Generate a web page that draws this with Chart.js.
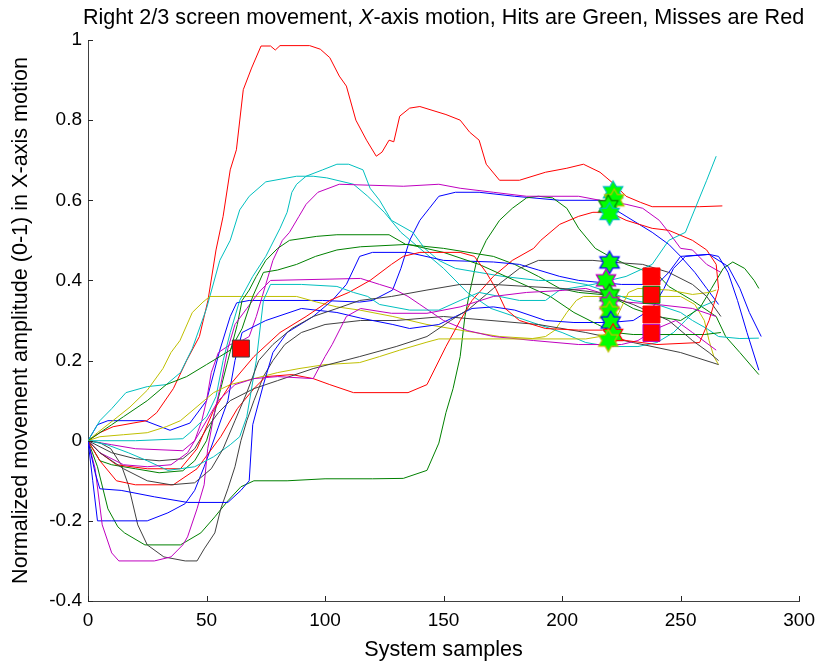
<!DOCTYPE html>
<html><head><meta charset="utf-8">
<script src="https://cdn.jsdelivr.net/npm/chart.js@4/dist/chart.umd.min.js"></script>
<style>html,body{margin:0;padding:0;background:#fff;}#wrap{width:823px;height:670px;}</style>
</head><body><div id="wrap"><canvas id="c" width="823" height="670"></canvas></div>
<script>
// ---------- data (x = system sample, y = normalized amplitude) ----------
const xTicks = [0, 50, 100, 150, 200, 250, 300];
const yTicks = [-0.4, -0.2, 0, 0.2, 0.4, 0.6, 0.8, 1];

const blue1 = [[0,0],[4,0.04],[8.4,0.05],[24,0.05],[34.6,0.026],[43,0.044],[50,0.1],[55.6,0.226],[60,0.31],[62.7,0.344],[68,0.35],[99,0.35],[114.6,0.346],[120,0.35],[128.5,0.376],[132,0.43],[135.7,0.5],[140,0.55],[144,0.58],[148,0.61],[155,0.62],[165,0.62],[180,0.61],[199,0.6],[216,0.6],[227,0.56],[238,0.52],[245,0.49],[250,0.46],[256,0.42],[261,0.38],[266,0.34]];
const green1 = [[0,0],[4,-0.065],[8.4,-0.17],[12.6,-0.215],[15.4,-0.23],[24,-0.26],[39,-0.26],[47.6,-0.23],[53.5,-0.19],[59,-0.15],[64.5,-0.115],[70,-0.1],[84,-0.1],[100,-0.095],[120,-0.095],[133,-0.094],[143,-0.074],[148,-0.006],[151,0.07],[154,0.13],[157,0.21],[159,0.31],[161,0.37],[164,0.45],[168,0.5],[173.6,0.55],[179,0.58],[185,0.606],[190,0.61],[196,0.606],[202,0.58],[207,0.53],[214,0.48],[220,0.46],[227,0.44],[234,0.426],[241,0.41],[245,0.385],[255,0.35],[265,0.31],[269,0.26],[275,0.22],[283,0.165]];
const red1 = [[0,0],[5,0.02],[10.6,0.035],[19,0.044],[24.8,0.05],[29,0.07],[36,0.13],[41.6,0.2],[47,0.26],[50.6,0.35],[54,0.476],[57,0.56],[60,0.676],[62.6,0.726],[65.5,0.876],[69,0.93],[73,0.985],[77,0.985],[79,0.975],[81,0.986],[93.5,0.986],[98,0.977],[102,0.956],[106,0.91],[109,0.885],[113,0.8],[117.5,0.75],[121.6,0.71],[124,0.72],[127,0.75],[129,0.746],[131.5,0.81],[135.7,0.83],[140,0.834],[151,0.814],[157,0.8],[161,0.77],[165,0.75],[168,0.69],[173.6,0.65],[182,0.65],[193,0.67],[202,0.68],[209,0.69],[216,0.67],[222,0.64],[227,0.61],[233,0.595],[238,0.584],[258,0.584],[267.6,0.586]];
const cyan1 = [[0,0],[5,0.05],[10,0.08],[16,0.12],[25,0.135],[33,0.14],[39,0.17],[44,0.23],[50,0.33],[55.6,0.45],[60,0.5],[64,0.576],[68,0.61],[75,0.646],[88,0.66],[95,0.66],[100.7,0.656],[112,0.64],[118,0.61],[125,0.57],[132,0.52],[140,0.48],[150,0.43],[160,0.37],[170,0.33],[180,0.31],[190,0.29],[200,0.27],[210,0.245],[220,0.235],[232,0.235],[240,0.245],[247,0.27],[252,0.3],[257,0.33],[265,0.35]];
const magenta1 = [[0,0],[10,-0.01],[20,-0.02],[40,-0.025],[45,0],[48,0.05],[50,0.1],[52,0.17],[55,0.22],[60,0.24],[65,0.25],[68,0.26],[71,0.31],[75,0.39],[78,0.45],[82,0.5],[85,0.52],[89,0.56],[92,0.59],[97,0.62],[106,0.64],[133,0.635],[148,0.64],[157,0.63],[171,0.62],[185,0.61],[207,0.61],[216,0.6],[227,0.59],[234,0.58],[241,0.55],[245,0.52],[250,0.48],[255,0.476],[261,0.44],[267,0.42]];
const yellow1 = [[0,0],[4,0.02],[10.5,0.05],[17.7,0.084],[25,0.126],[31.6,0.18],[35,0.22],[38.8,0.25],[44,0.32],[48.5,0.346],[51.4,0.36],[88,0.36],[96.5,0.346],[105,0.334],[114.6,0.326],[128.6,0.31],[143,0.29],[157,0.276],[173.6,0.26],[187.5,0.255],[193,0.26],[197,0.276],[202,0.32],[206,0.35],[209,0.36],[250,0.36],[256,0.34],[260,0.3],[262,0.25],[264,0.21],[266,0.19]];
const grey1 = [[0,0],[5,-0.005],[9.6,-0.02],[14,-0.06],[17,-0.11],[21,-0.21],[25,-0.26],[32,-0.29],[41,-0.3],[46,-0.3],[49,-0.27],[53.5,-0.23],[56,-0.17],[59,-0.12],[62,-0.065],[64.5,0],[67,0.05],[70,0.1],[74,0.16],[78,0.2],[83,0.24],[90,0.27],[100,0.29],[115,0.3],[130,0.3],[150,0.31],[170,0.3],[190,0.29],[210,0.27],[230,0.245],[250,0.22],[266,0.19]];
const blue2 = [[0,0],[2,-0.1],[4,-0.2],[9.8,-0.2],[25,-0.2],[33.7,-0.18],[41,-0.157],[45,-0.124],[49,-0.065],[52,-0.016],[55,0.034],[59,0.1],[62,0.2],[65,0.27],[75,0.3],[90,0.33],[105,0.32],[115,0.306],[128.6,0.29],[135.7,0.28],[148,0.29],[155,0.31],[162,0.33],[171,0.334],[180,0.326],[193,0.3],[205,0.295],[220,0.295],[230,0.3],[238,0.33],[243,0.38],[247,0.43],[252,0.46],[262,0.465],[270,0.435],[275,0.38],[279,0.32],[284,0.26]];
const green2 = [[0,0],[5,-0.05],[10,-0.06],[20,-0.07],[30,-0.08],[40,-0.075],[45,-0.05],[50,0],[53,0.06],[56,0.13],[59,0.2],[63,0.29],[65,0.35],[68,0.376],[71,0.41],[75,0.45],[80,0.48],[85,0.5],[96.5,0.51],[105,0.514],[127,0.514],[134,0.49],[150,0.48],[171,0.46],[180,0.44],[190,0.41],[199,0.38],[207,0.37],[220,0.363],[230,0.33],[240,0.31],[250,0.3],[258,0.33],[263,0.38],[268,0.43],[272,0.446],[277,0.43],[281,0.4],[283,0.38]];
const red2 = [[0,0],[5,-0.05],[12,-0.1],[20,-0.11],[36,-0.11],[46,-0.07],[56,0.01],[63,0.08],[70,0.13],[75,0.16],[86,0.165],[95,0.155],[102,0.14],[112,0.12],[135,0.12],[143,0.14],[151,0.235],[157,0.3],[162,0.35],[171,0.41],[179,0.45],[188,0.48],[191,0.5],[199,0.54],[207,0.56],[213,0.57],[220,0.57],[227,0.55],[238,0.53],[245,0.525],[255,0.5],[261,0.476],[265,0.44],[266,0.38]];
const cyan2 = [[0,0],[20,0],[40,0.005],[43,0.02],[50,0.06],[54,0.11],[57,0.2],[60,0.27],[64,0.35],[69.5,0.41],[75,0.46],[81,0.53],[84,0.57],[86,0.62],[88,0.64],[92,0.66],[99,0.676],[105,0.69],[110,0.69],[116,0.676],[119,0.63],[123,0.6],[128,0.55],[137,0.52],[142,0.48],[148,0.45],[155,0.43],[165,0.42],[175,0.41],[190,0.4],[200,0.4],[210,0.39],[220,0.37],[230,0.35],[240,0.34],[250,0.32],[255,0.3],[261,0.28],[266,0.26],[275,0.255],[283,0.256]];
const magenta2 = [[0,0],[3,-0.07],[6,-0.21],[10,-0.28],[13,-0.3],[28,-0.3],[35,-0.29],[40,-0.26],[42,-0.24],[46,-0.17],[49,-0.11],[50.5,-0.02],[53,0.06],[56,0.14],[59,0.23],[62,0.29],[67,0.33],[72,0.37],[77,0.4],[115,0.405],[123,0.39],[128.5,0.38],[135,0.36],[140,0.34],[150,0.3],[160,0.275],[171,0.26],[188,0.25],[207,0.24],[225,0.24],[232,0.25],[240,0.28],[248,0.3],[255,0.27],[265,0.226]];
const yellow2 = [[0,0],[5,0.01],[15,0.015],[25,0.02],[33,0.035],[39,0.05],[46,0.085],[53,0.12],[60,0.14],[70,0.155],[80,0.17],[89,0.18],[100,0.19],[114.6,0.195],[123,0.21],[131.5,0.226],[143,0.246],[148,0.254],[210,0.254],[216,0.26],[220,0.27],[224,0.32],[228,0.37],[232,0.38],[245,0.376],[255,0.365],[262,0.37],[265,0.376]];
const grey2 = [[0,0],[10,-0.03],[20,-0.045],[30,-0.05],[40,-0.045],[45,-0.02],[50,0.03],[55,0.07],[60,0.1],[70,0.13],[80,0.15],[95,0.18],[114.6,0.21],[130,0.235],[143,0.26],[153,0.3],[161,0.33],[171,0.38],[182,0.43],[190,0.45],[213,0.45],[222,0.445],[234,0.44],[245,0.42],[255,0.39],[261,0.36],[267,0.31]];
const blue3 = [[0,0],[3,-0.08],[5,-0.12],[14,-0.124],[28,-0.14],[42,-0.154],[59,-0.154],[64.5,-0.124],[68,-0.1],[69.5,0.04],[74,0.14],[78,0.22],[84,0.27],[95,0.31],[103,0.35],[109,0.39],[114.6,0.46],[120,0.47],[135,0.47],[150,0.45],[171,0.446],[182,0.44],[190,0.426],[199,0.41],[207,0.4],[225,0.39],[240,0.39],[245,0.42],[250,0.46],[262,0.465],[266,0.46],[270,0.42],[274,0.35],[278,0.27],[283,0.176]];
const green3 = [[0,0],[5,0.02],[10,0.04],[15,0.06],[25,0.1],[33,0.14],[41.6,0.16],[50,0.19],[55.6,0.21],[60,0.226],[65,0.28],[69.5,0.36],[74,0.42],[80,0.426],[88,0.44],[96,0.46],[105,0.476],[115,0.484],[135,0.49],[150,0.47],[165,0.44],[180,0.4],[195,0.36],[205,0.32],[215,0.29],[222,0.27],[230,0.265],[260,0.265],[267,0.27]];
const red3 = [[0,0],[5,-0.03],[12,-0.06],[25,-0.07],[39,-0.07],[46,-0.02],[53,0.076],[60,0.14],[70,0.21],[81,0.27],[92,0.31],[102,0.35],[110,0.37],[119,0.4],[128,0.44],[133,0.46],[140,0.47],[157,0.47],[163,0.46],[168,0.42],[172,0.38],[176,0.33],[182,0.3],[193,0.28],[207,0.276],[217,0.276],[221,0.26],[227,0.25],[240,0.24],[258,0.245],[262,0.3],[264,0.34],[266,0.38]];
const cyan3 = [[0,0],[8,-0.01],[17,-0.03],[25,-0.05],[33.7,-0.074],[45,-0.065],[53,-0.04],[60,-0.01],[64,0.01],[67,0.06],[71,0.2],[74,0.35],[77,0.39],[90,0.39],[105,0.385],[112,0.37],[118,0.36],[123,0.34],[135.7,0.326],[148,0.326],[157,0.35],[165,0.37],[173.6,0.36],[182,0.35],[193,0.35],[199,0.376],[213,0.39],[227,0.41],[238,0.44],[245,0.5],[252,0.52],[256.5,0.585],[261,0.65],[265,0.71]];
const magenta3 = [[0,0],[5,-0.03],[15,-0.06],[25,-0.065],[35,-0.06],[42,-0.03],[48,0.03],[55,0.1],[62,0.14],[70,0.155],[80,0.16],[95,0.155],[100,0.21],[103,0.24],[109,0.31],[115,0.33],[128,0.318],[143,0.318],[157,0.334],[171,0.36],[185,0.37],[200,0.375],[210,0.38],[220,0.363],[227,0.346],[240,0.34],[255,0.33],[265,0.31]];
const grey3 = [[0,0],[5,-0.03],[15,-0.07],[25,-0.1],[35,-0.11],[45,-0.105],[52,-0.07],[57,-0.02],[62,0.05],[67,0.12],[72,0.2],[78,0.24],[86,0.28],[95,0.31],[105,0.33],[114.6,0.35],[128,0.36],[143,0.376],[157,0.39],[171,0.39],[185,0.385],[200,0.38],[215,0.37],[230,0.34],[245,0.3],[255,0.25],[262,0.22],[266,0.2]];

// hit markers (hexagrams) and miss markers (squares)
const hitX = [221.5, 222, 219.5, 220, 220, 218.5, 220, 220, 220, 220.5, 221.5, 219.5];
const hitY = [0.62, 0.60, 0.585, 0.566, 0.445, 0.40, 0.363, 0.343, 0.32, 0.295, 0.264, 0.25];
const hitTrial = ['c','y','g','c','b','m','g','m','y','b','r','y'];
const missX = [64.5, 237.7, 237.7, 237.7, 237.7];
const missY = [0.23, 0.41, 0.364, 0.315, 0.269];
const missTrial = ['k','r','g','r','m'];

// ---------- styling ----------
const C = {b:'#0000ff', g:'#008000', r:'#ff0000', c:'#00bfbf', m:'#bf00bf', y:'#bfbf00', k:'#404040'};
const series = [
  [blue1,'b'],[green1,'g'],[red1,'r'],[cyan1,'c'],[magenta1,'m'],[yellow1,'y'],[grey1,'k'],
  [blue2,'b'],[green2,'g'],[red2,'r'],[cyan2,'c'],[magenta2,'m'],[yellow2,'y'],[grey2,'k'],
  [blue3,'b'],[green3,'g'],[red3,'r'],[cyan3,'c'],[magenta3,'m'],[grey3,'k']
];

function hexagram(edge){
  const s = 28, r = 11.2, cv = document.createElement('canvas');
  cv.width = s; cv.height = s;
  const g = cv.getContext('2d');
  g.beginPath();
  for (let i = 0; i < 12; i++) {
    const a = -Math.PI/2 + i*Math.PI/6;
    const rr = (i % 2 === 0) ? r : r/Math.sqrt(3);
    g.lineTo(s/2 + rr*Math.cos(a), s/2 + rr*Math.sin(a));
  }
  g.closePath();
  g.fillStyle = '#00ff00'; g.fill();
  g.strokeStyle = edge; g.lineWidth = 1.2; g.stroke();
  return cv;
}

const datasets = [];
datasets.push({
  type:'line', showLine:false, order:-2,
  data: hitX.map((x,i)=>({x, y: hitY[i]})),
  pointStyle: hitTrial.map(t=>hexagram(C[t])),
  pointRadius: 12, pointHoverRadius: 12
});
datasets.push({
  type:'line', showLine:false, order:-1,
  data: missX.map((x,i)=>({x, y: missY[i]})),
  pointStyle:'rect', pointRadius:12, pointHoverRadius:12,
  pointBackgroundColor:'#ff0000', pointBorderColor: missTrial.map(t=>C[t]), pointBorderWidth:1
});
series.forEach(([arr,col],i)=>{
  datasets.push({
    type:'line', order: 100 - i,
    data: arr.map(p=>({x:p[0], y:p[1]})),
    borderColor: C[col], borderWidth: 1, pointRadius: 0, tension: 0, fill: false
  });
});

const FONT = 'Liberation Sans, Arial, Helvetica, sans-serif';

const matlabAxes = {
  id:'matlabAxes',
  afterDraw(chart){
    const {ctx, chartArea:a, scales:{x, y}} = chart;
    ctx.save();
    ctx.strokeStyle = '#262626'; ctx.lineWidth = 1;
    ctx.beginPath();
    xTicks.forEach(v=>{ const px = Math.round(x.getPixelForValue(v)) + 0.5; ctx.moveTo(px, a.bottom); ctx.lineTo(px, a.bottom - 5); });
    yTicks.forEach(v=>{ const py = Math.round(y.getPixelForValue(v)) + 0.5; ctx.moveTo(a.left, py); ctx.lineTo(a.left + 5, py); });
    ctx.stroke();
    // title
    const parts = [['Right 2/3 screen movement, ', 'normal'], ['X', 'italic'], ['-axis motion, Hits are Green, Misses are Red', 'normal']];
    ctx.fillStyle = '#000'; ctx.textBaseline = 'middle';
    let total = 0;
    parts.forEach(p=>{ ctx.font = p[1] + ' 21.6px ' + FONT; total += ctx.measureText(p[0]).width; });
    let cx = (a.left + a.right)/2 - total/2;
    ctx.textAlign = 'left';
    parts.forEach(p=>{ ctx.font = p[1] + ' 21.6px ' + FONT; ctx.fillText(p[0], cx, 18); cx += ctx.measureText(p[0]).width; });
    ctx.restore();
  }
};

new Chart(document.getElementById('c'), {
  data: { datasets },
  options: {
    responsive:false, animation:false, devicePixelRatio:1,
    layout:{ padding:{ top:40, right:23, left:0, bottom:0 } },
    plugins:{ legend:{display:false}, tooltip:{enabled:false}, title:{display:false} },
    scales:{
      x:{
        type:'linear', min:0, max:300,
        afterFit(s){ s.height = 69; },
        afterBuildTicks(s){ s.ticks = xTicks.map(v=>({value:v})); },
        grid:{ display:false, drawTicks:false },
        border:{ display:true, color:'#404040', width:1 },
        ticks:{ color:'#000', font:{ family:FONT, size:19 }, padding:8, maxRotation:0, autoSkip:false },
        title:{ display:true, text:'System samples', color:'#000', font:{ family:FONT, size:21.6 }, padding:{ top:0, bottom:7 } }
      },
      y:{
        type:'linear', min:-0.4, max:1,
        afterFit(s){ s.width = 88; },
        afterBuildTicks(s){ s.ticks = yTicks.map(v=>({value:v})); },
        grid:{ display:false, drawTicks:false },
        border:{ display:true, color:'#404040', width:1 },
        ticks:{ color:'#000', font:{ family:FONT, size:19 }, padding:6, autoSkip:false,
          callback:(v)=>String(Math.round(v*10)/10) },
        title:{ display:true, text:'Normalized movement amplitude (0-1) in X-axis motion', color:'#000', font:{ family:FONT, size:21.6 }, padding:{ top:8, bottom:0 } }
      }
    }
  },
  plugins:[matlabAxes]
});
</script></body></html>
